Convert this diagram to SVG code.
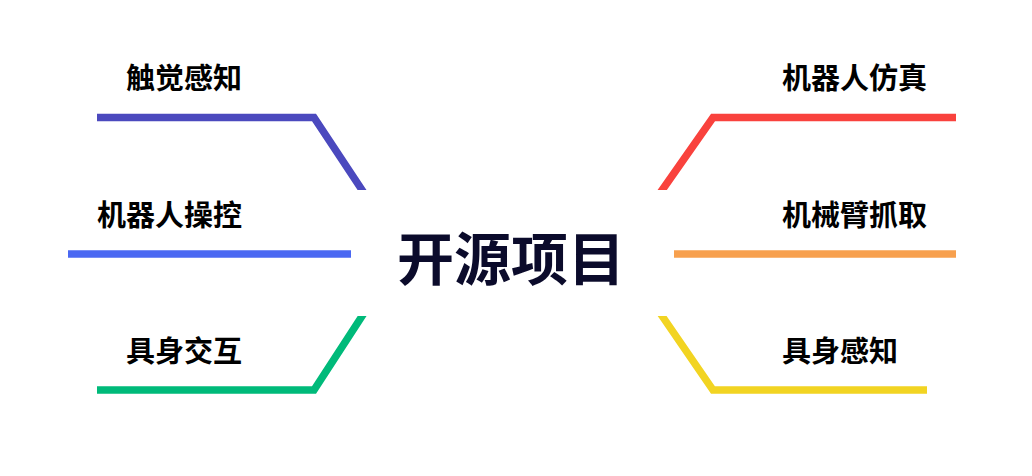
<svg xmlns="http://www.w3.org/2000/svg" width="1032" height="476" viewBox="0 0 1032 476">
<style>
.lbl{font-family:"Noto Sans CJK SC","Noto Sans",sans-serif;font-weight:700;font-size:29px;fill:#000}
.ctr{font-family:"Noto Sans CJK SC","Noto Sans",sans-serif;font-weight:700;font-size:57px;fill:#0b0b2b}
.ln{fill:none;stroke-width:7.5;stroke-linejoin:miter;stroke-linecap:butt}
</style>
<defs>
<clipPath id="cut">
<rect x="0" y="0" width="1032" height="190"/>
<rect x="0" y="316" width="1032" height="160"/>
<rect x="0" y="190" width="354" height="126"/>
<rect x="671" y="190" width="361" height="126"/>
</clipPath>
</defs>
<rect width="1032" height="476" fill="#fff"/>
<g id="connectors" clip-path="url(#cut)">
<polyline class="ln" stroke="#4b49be" points="97,117.5 314,117.5 366,196"/>
<polyline class="ln" stroke="#4a68f2" points="68,254 351,254"/>
<polyline class="ln" stroke="#00ba7a" points="97,390 314,390 366,310"/>
<polyline class="ln" stroke="#f9423d" points="956,117.5 713,117.5 658,196"/>
<polyline class="ln" stroke="#f7a04e" points="674,254 956,254"/>
<polyline class="ln" stroke="#f2d422" points="658,310 713,390 927,390"/>
</g>
<g id="center"><text class="ctr" x="397" y="280">开源项目</text></g>
<g id="n1"><text class="lbl" x="126" y="89">触觉感知</text></g>
<g id="n2"><text class="lbl" x="97" y="226">机器人操控</text></g>
<g id="n3"><text class="lbl" x="126" y="362">具身交互</text></g>
<g id="n4"><text class="lbl" x="782" y="89">机器人仿真</text></g>
<g id="n5"><text class="lbl" x="782" y="226">机械臂抓取</text></g>
<g id="n6"><text class="lbl" x="782" y="362">具身感知</text></g>
</svg>
